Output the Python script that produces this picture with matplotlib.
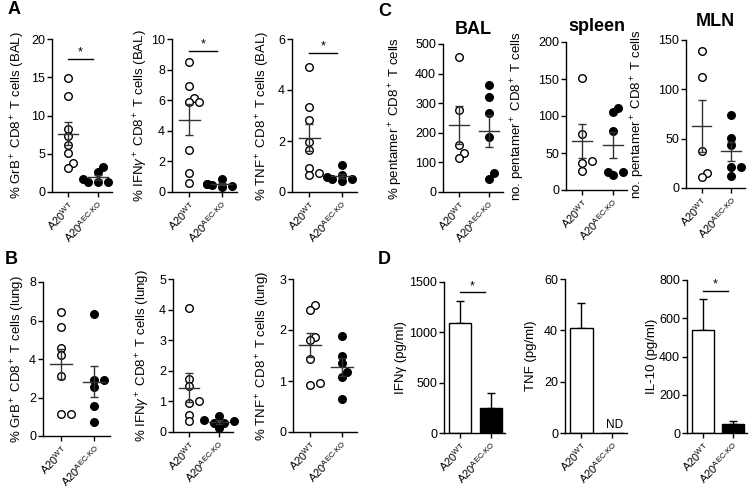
import numpy as np
import matplotlib
matplotlib.use('Agg')
import matplotlib.pyplot as plt

plt.rcParams['font.family'] = ['Liberation Sans', 'DejaVu Sans']
plt.rcParams['mathtext.fontset'] = 'custom'
plt.rcParams['mathtext.rm'] = 'Liberation Sans'
plt.rcParams['mathtext.it'] = 'Liberation Sans:italic'
plt.rcParams['mathtext.bf'] = 'Liberation Sans:bold'
plt.rcParams['font.size'] = 9

groups = [r'A20$^{\mathrm{WT}}$', r'A20$^{\mathrm{AEC}\text{-}\mathrm{KO}}$']

# A: BAL, % of CD8+ T cells
grb_bal_wt = [14.9, 12.5, 8.3, 7.3, 6.1, 5.1, 3.75, 3.2]
grb_bal_ko = [3.3, 2.6, 1.7, 1.35, 1.3, 1.25]
ifn_bal_wt = [8.5, 6.93, 6.17, 5.86, 5.86, 2.75, 1.22, 0.61]
ifn_bal_ko = [0.85, 0.55, 0.5, 0.45, 0.4, 0.35]
tnf_bal_wt = [4.92, 3.32, 2.82, 1.95, 1.65, 0.93, 0.76, 0.67]
tnf_bal_ko = [1.06, 0.68, 0.6, 0.5, 0.5, 0.42]

# B: lung
grb_lung_wt = [6.46, 5.68, 4.55, 4.2, 3.1, 1.14, 1.14]
grb_lung_ko = [6.34, 2.9, 2.9, 2.53, 1.56, 0.74]
ifn_lung_wt = [4.04, 1.73, 1.5, 1.0, 0.95, 0.56, 0.36]
ifn_lung_ko = [0.52, 0.4, 0.35, 0.3, 0.3, 0.12]
tnf_lung_wt = [2.5, 2.39, 1.87, 1.8, 1.44, 0.97, 0.92]
tnf_lung_ko = [1.89, 1.49, 1.35, 1.18, 1.08, 0.64]

# C: pentamer+ CD8+ T cells
pent_bal_wt = [457, 277, 159, 131, 114]
pent_bal_ko = [361, 322, 266, 185, 63, 44]
pent_spl_wt = [151, 76, 39, 37, 26]
pent_spl_ko = [111, 105, 80, 25, 24, 20]
pent_mln_wt = [139, 113, 37, 15.5, 11.5]
pent_mln_ko = [74, 51, 44, 21, 21, 12]

# D: cytokines, mean and SEM (KO TNF not detected)
ifng_mean = [1088, 250]
ifng_sem = [222, 148]
tnf_mean = [41.1, 0]
tnf_sem = [9.5, 0]
il10_mean = [538, 45]
il10_sem = [165, 20]

W, H = 750, 488
fig = plt.figure(figsize=(W / 100, H / 100), dpi=100)


def px_axes(l, r, t, b):
    return fig.add_axes([l / W, 1 - b / H, (r - l) / W, (b - t) / H])


def style(ax, ymax, step, ylabel, label_x):
    ax.set_xlim(-0.53, 1.47)
    ax.set_ylim(0, ymax)
    ax.set_yticks(np.arange(0, ymax + step / 2, step))
    ax.set_xticks([0, 1])
    ax.set_xticklabels(groups, rotation=45, ha='right', rotation_mode='anchor', fontsize=8)
    for s in ('top', 'right'):
        ax.spines[s].set_visible(False)
    for s in ('left', 'bottom'):
        ax.spines[s].set_linewidth(1)
    ax.tick_params(width=1, length=3.5, pad=1.5)
    ax.tick_params(axis='x', pad=1.5)
    ax.set_ylabel(ylabel, fontsize=9.5)
    # place the y label at a fixed pixel column (its right edge)
    pos = ax.get_position()
    l, w = pos.x0 * W, pos.width * W
    ax.yaxis.set_label_coords((label_x - l) / w, 0.5)


def swarm(ax, x0, vals, d=6.0, step=5.0):
    # spread overlapping dots sideways, like a scatter dot plot
    p = ax.transData.transform(np.column_stack([np.full(len(vals), x0), vals]))
    ppx = ax.transData.transform([(1, 0)])[0][0] - ax.transData.transform([(0, 0)])[0][0]
    placed = []
    xs = np.zeros(len(vals))
    for k in np.argsort(vals):
        y = p[k, 1]
        for off in [0, 1, -1, 2, -2, 3, -3]:
            x = off * step
            if all((x - a) ** 2 + (y - b) ** 2 >= d * d for a, b in placed):
                break
        placed.append((x, y))
        xs[k] = x0 + x / ppx
    return xs


def dot_panel(ax, wt, ko, ymax, step, ylabel, label_x):
    style(ax, ymax, step, ylabel, label_x)
    for i, vals, face in ((0, wt, 'white'), (1, ko, 'black')):
        vals = np.asarray(vals, float)
        xs = swarm(ax, i, vals)
        ax.scatter(xs, vals, s=30, facecolor=face, edgecolor='black', lw=1, zorder=3, clip_on=False)
        m = vals.mean()
        se = vals.std(ddof=1) / np.sqrt(len(vals))
        ax.plot([i - 0.33, i + 0.33], [m, m], color='#333333', lw=1, zorder=4)
        ax.errorbar(i, m, yerr=se, fmt='none', ecolor='#333333', elinewidth=1,
                    capsize=3.2, capthick=1, zorder=4)


def bar_panel(ax, means, sems, ymax, step, ylabel, label_x):
    style(ax, ymax, step, ylabel, label_x)
    ax.bar([0, 1], means, width=0.72, color=['white', 'black'], edgecolor='black', lw=1, zorder=2)
    for i in range(2):
        if sems[i] > 0:
            ax.errorbar(i, means[i], yerr=[[0], [sems[i]]], fmt='none', ecolor='black',
                        elinewidth=1, capsize=3.2, capthick=1, zorder=1)


def star(ax, y, x1=0.84):
    ax.plot([0, x1], [y, y], color='black', lw=1, clip_on=False)
    ax.text(x1 / 2, y, '*', ha='center', va='bottom', fontsize=9)


# row 1, panel A
a1 = px_axes(52, 112, 39, 192)
dot_panel(a1, grb_bal_wt, grb_bal_ko, 20, 5, r'% GrB$^+$ CD8$^+$ T cells (BAL)', 27)
star(a1, 17.4)
a2 = px_axes(172, 237, 39, 192)
dot_panel(a2, ifn_bal_wt, ifn_bal_ko, 10, 2, r'% IFN$\gamma^+$ CD8$^+$ T cells (BAL)', 150)
star(a2, 9.24)
a3 = px_axes(292, 357, 39, 192)
dot_panel(a3, tnf_bal_wt, tnf_bal_ko, 6, 2, r'% TNF$^+$ CD8$^+$ T cells (BAL)', 272)
star(a3, 5.46)

# row 1, panel C
c1 = px_axes(443, 503, 44, 192)
dot_panel(c1, pent_bal_wt, pent_bal_ko, 500, 100, r'% pentamer$^+$ CD8$^+$ T cells', 405)
c1.set_title('BAL', fontweight='bold', fontsize=13, pad=7)
c2 = px_axes(566, 627, 42, 190)
dot_panel(c2, pent_spl_wt, pent_spl_ko, 200, 50, r'no. pentamer$^+$ CD8$^+$ T cells', 527)
c2.set_title('spleen', fontweight='bold', fontsize=13, pad=8)
c3 = px_axes(686, 745, 40, 188)
dot_panel(c3, pent_mln_wt, pent_mln_ko, 150, 50, r'no. pentamer$^+$ CD8$^+$ T cells', 647)
c3.set_title('MLN', fontweight='bold', fontsize=13, pad=10)

# row 2, panel B
b1 = px_axes(43, 110, 282, 436)
dot_panel(b1, grb_lung_wt, grb_lung_ko, 8, 2, r'% GrB$^+$ CD8$^+$ T cells (lung)', 27)
b2 = px_axes(173, 233, 279, 432)
dot_panel(b2, ifn_lung_wt, ifn_lung_ko, 5, 1, r'% IFN$\gamma^+$ CD8$^+$ T cells (lung)', 152)
b3 = px_axes(293, 357, 279, 432)
dot_panel(b3, tnf_lung_wt, tnf_lung_ko, 3, 1, r'% TNF$^+$ CD8$^+$ T cells (lung)', 272)

# row 2, panel D
d1 = px_axes(444, 505, 282, 433)
bar_panel(d1, ifng_mean, ifng_sem, 1500, 500, 'IFNγ (pg/ml)', 407)
star(d1, 1400, 0.82)
d2 = px_axes(565, 627, 279, 433)
bar_panel(d2, tnf_mean, tnf_sem, 60, 20, 'TNF (pg/ml)', 537)
d2.text(1.08, 0.6, 'ND', ha='center', va='bottom', fontsize=8.5)
d3 = px_axes(687, 747, 280, 433)
bar_panel(d3, il10_mean, il10_sem, 800, 200, 'IL-10 (pg/ml)', 658)
star(d3, 745, 0.82)

for letter, x, y in (('A', 8, 10), ('C', 378, 12), ('B', 5, 260), ('D', 378, 260)):
    fig.text(x / W, 1 - y / H, letter, fontsize=13, fontweight='bold', va='center', ha='left')

fig.savefig('out.png', dpi=100)
